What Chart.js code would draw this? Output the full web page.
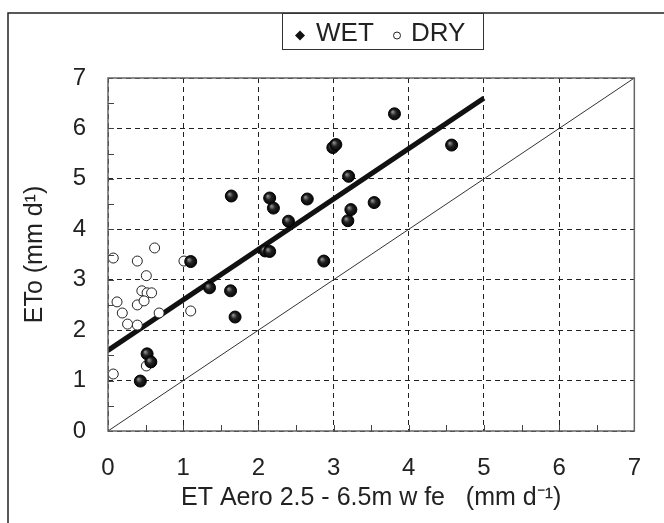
<!DOCTYPE html>
<html>
<head>
<meta charset="utf-8">
<script src="https://cdn.jsdelivr.net/npm/chart.js@4/dist/chart.umd.min.js"></script>
<style>
  html, body { margin: 0; padding: 0; background: #fff; }
  #wrap { width: 664px; height: 523px; position: relative; }
</style>
</head>
<body>
<div id="wrap"><canvas id="et-chart"></canvas></div>
<script>
// wet season observations
var wetX = [0.43, 0.52, 0.57, 1.10, 1.35, 1.63, 1.69, 1.64, 2.09, 2.15, 2.15, 2.20, 2.40, 2.65, 2.87, 2.99, 3.03, 3.20, 3.19, 3.23, 3.54, 3.81, 4.57];
var wetY = [0.99, 1.53, 1.37, 3.36, 2.84, 2.78, 2.26, 4.66, 3.57, 3.56, 4.62, 4.42, 4.16, 4.60, 3.37, 5.62, 5.68, 5.05, 4.17, 4.39, 4.53, 6.29, 5.67];

// dry season observations
var dryX = [0.07, 0.39, 0.62, 1.01, 0.51, 0.45, 0.52, 0.58, 0.12, 0.39, 0.48, 0.19, 0.26, 0.39, 0.68, 1.10, 0.51, 0.07];
var dryY = [3.43, 3.37, 3.63, 3.37, 3.08, 2.78, 2.74, 2.74, 2.56, 2.50, 2.58, 2.34, 2.12, 2.10, 2.34, 2.38, 1.29, 1.13];

// wet season fit and the 1:1 line
var fitX = [0, 5];
var fitY = [1.6, 6.6];
var oneX = [0, 7];
var oneY = [0, 7];

var axisTicks = [0, 1, 2, 3, 4, 5, 6, 7];

function pairs(xs, ys) {
  return xs.map(function (x, i) { return { x: x, y: ys[i] }; });
}

var FONT = '"Liberation Sans", Arial, sans-serif';

// shaded "ball" fill for the wet markers
function ballFill(c) {
  var sx = c.chart.scales.x, sy = c.chart.scales.y;
  if (!c.parsed || !sx || !sy) return '#151515';
  var px = sx.getPixelForValue(c.parsed.x);
  var py = sy.getPixelForValue(c.parsed.y);
  if (!isFinite(px) || !isFinite(py)) return '#151515';
  var g = c.chart.ctx.createRadialGradient(px - 2, py - 2, 0.5, px, py, 6);
  g.addColorStop(0, '#8a8a8a');
  g.addColorStop(0.45, '#222');
  g.addColorStop(1, '#050505');
  return g;
}

// outer frame, plot frame, half-unit ticks and the boxed legend
var decorations = {
  id: 'decorations',
  afterDraw: function (chart) {
    var ctx = chart.ctx;
    var a = chart.chartArea;
    var xs = chart.scales.x, ys = chart.scales.y;
    ctx.save();

    ctx.strokeStyle = '#666';
    ctx.lineWidth = 1.5;
    ctx.strokeRect(a.left, a.top, a.right - a.left, a.bottom - a.top);

    ctx.strokeStyle = '#444';
    ctx.lineWidth = 1;
    ctx.beginPath();
    for (var v = 0.5; v < 7; v += 0.5) {
      var px = Math.round(xs.getPixelForValue(v)) + 0.5;
      ctx.moveTo(px, a.bottom);
      ctx.lineTo(px, a.bottom - 6);
      var py = Math.round(ys.getPixelForValue(v)) + 0.5;
      ctx.moveTo(a.left, py);
      ctx.lineTo(a.left + 6, py);
    }
    ctx.stroke();

    ctx.strokeStyle = '#222';
    ctx.lineWidth = 1.5;
    ctx.beginPath();
    ctx.moveTo(8, 523);
    ctx.lineTo(8, 13);
    ctx.lineTo(664, 13);
    ctx.stroke();

    // legend
    ctx.fillStyle = '#fff';
    ctx.fillRect(282, 13, 201, 36);
    ctx.strokeStyle = '#333';
    ctx.lineWidth = 1;
    ctx.strokeRect(282.5, 13.5, 201, 36);

    var wet = chart.data.datasets[0], dry = chart.data.datasets[1];
    ctx.fillStyle = '#111';
    ctx.beginPath();
    ctx.moveTo(300, 30.5);
    ctx.lineTo(305, 35.5);
    ctx.lineTo(300, 40.5);
    ctx.lineTo(295, 35.5);
    ctx.closePath();
    ctx.fill();

    ctx.strokeStyle = '#222';
    ctx.beginPath();
    ctx.arc(397, 35.5, 3.5, 0, Math.PI * 2);
    ctx.stroke();

    ctx.fillStyle = '#222';
    ctx.font = '26px ' + FONT;
    ctx.textBaseline = 'middle';
    ctx.textAlign = 'left';
    ctx.fillText(wet.label, 316, 34);
    ctx.fillText(dry.label, 411, 34);

    ctx.restore();
  }
};

new Chart(document.getElementById('et-chart'), {
  type: 'scatter',
  data: {
    datasets: [
      {
        label: 'WET',
        data: pairs(wetX, wetY),
        pointRadius: 6,
        pointBackgroundColor: ballFill,
        pointBorderColor: '#000',
        pointBorderWidth: 1,
        order: 0
      },
      {
        label: 'DRY',
        data: pairs(dryX, dryY),
        pointRadius: 5,
        pointBackgroundColor: '#fff',
        pointBorderColor: '#222',
        pointBorderWidth: 1,
        order: 1
      },
      {
        label: 'fit',
        type: 'line',
        data: pairs(fitX, fitY),
        borderColor: '#111',
        borderWidth: 5,
        pointRadius: 0,
        order: 2
      },
      {
        label: '1:1',
        type: 'line',
        data: pairs(oneX, oneY),
        borderColor: '#333',
        borderWidth: 1,
        pointRadius: 0,
        order: 3
      }
    ]
  },
  options: {
    responsive: true,
    maintainAspectRatio: false,
    animation: false,
    layout: { padding: { left: 0, right: 23, top: 78, bottom: 0 } },
    plugins: {
      legend: { display: false },
      tooltip: { enabled: false }
    },
    scales: {
      x: {
        type: 'linear',
        min: 0,
        max: 7,
        afterBuildTicks: function (s) { s.ticks = axisTicks.map(function (v) { return { value: v }; }); },
        afterFit: function (s) { s.height = 92; },
        ticks: { color: '#222', padding: 23, font: { family: FONT, size: 24 } },
        grid: { color: '#222', lineWidth: 1, drawTicks: false },
        border: { display: false, dash: [5, 4] },
        title: {
          display: true,
          text: 'ET Aero 2.5 - 6.5m w fe   (mm d\u207B\u00B9)',
          color: '#222',
          font: { family: FONT, size: 25 },
          padding: { top: 0, bottom: 10 }
        }
      },
      y: {
        type: 'linear',
        min: 0,
        max: 7,
        afterBuildTicks: function (s) { s.ticks = axisTicks.map(function (v) { return { value: v }; }); },
        afterFit: function (s) { s.width = 108; },
        ticks: { color: '#222', padding: 22, font: { family: FONT, size: 24 } },
        grid: { color: '#222', lineWidth: 1, drawTicks: false },
        border: { display: false, dash: [5, 4] },
        title: {
          display: true,
          text: 'ETo (mm d\u00B9)',
          color: '#222',
          font: { family: FONT, size: 25 },
          padding: { top: 20, bottom: 0 }
        }
      }
    }
  },
  plugins: [decorations]
});
</script>
</body>
</html>
